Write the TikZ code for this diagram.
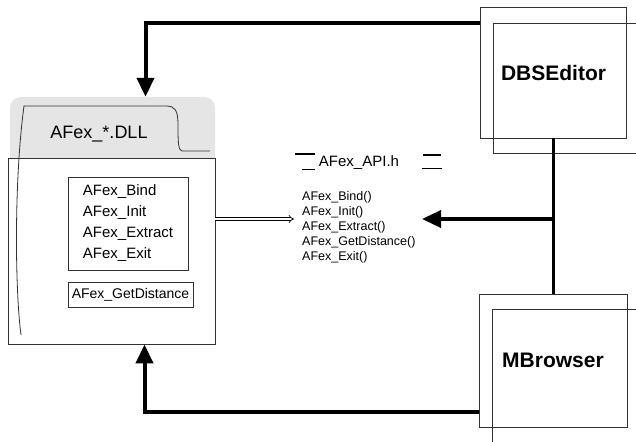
\documentclass[tikz,border=0pt]{standalone}
\usepackage{fontspec}
\setmainfont{Liberation Sans}
\usetikzlibrary{%
    arrows.meta,%
    positioning
    }
\definecolor{mygray1}{RGB}{229,229,229}
\definecolor{mygray2}{RGB}{50,50,50}
\tikzset{
  dlltab/.style={
    rectangle,
    rounded corners=11pt,
    fill=mygray1,
    minimum width=205pt,
    minimum height=103pt,
  },
  dllbox/.style={
    rectangle,
    draw=mygray2,
    line width=0.9pt,
    fill=white,
    minimum width=207pt,
    minimum height=186pt,
  },
  funcbox/.style={
    rectangle,
    draw=mygray2,
    line width=0.8pt,
    align=left,
    inner sep=0pt,
    font=\fontsize{15}{21}\selectfont,
  },
  appbox/.style={
    rectangle,
    draw=mygray2,
    line width=0.8pt,
    minimum width=146pt,
    minimum height=131pt,
    font=\fontsize{21}{24}\selectfont\bfseries,
  },
  frame/.style={
    mygray2,
    line width=0.8pt,
  },
  conn/.style={
    line width=4pt,
    -{Triangle[length=19pt,width=17pt]},
  },
  dblarrow/.style={
    double=white,
    double distance=2pt,
    line width=0.7pt,
    -{Implies},
  },
}

\begin{document}
\begin{tikzpicture}[x=1pt,y=1pt]
\useasboundingbox (0,0) rectangle (636,-441);

% the DLL
\node[dlltab] 
  (tab) 
  at (112.5,-148.5) 
  {};
\node[dllbox] 
  (dll) 
  at (111.5,-251) 
  {};
\draw[frame] 
  (210,-151) -- (182,-151) 
  .. controls (178,-151) and (178,-140) .. (178,-125) 
  .. controls (178,-110) and (175,-106) .. (166,-106) 
  -- (24,-106) 
  .. controls (14,-180) and (15,-290) .. (21,-335);
\node[font=\fontsize{18}{20}\selectfont] 
  (dllname) 
  at (99,-134) 
  {AFex\_*.DLL};
\node[funcbox, minimum width=120pt, minimum height=93pt] 
  (funcs) 
  at (128,-223.5) 
  {AFex\_Bind\\AFex\_Init\\AFex\_Extract\\AFex\_Exit};
\node[funcbox, font=\fontsize{14}{16}\selectfont, 
      minimum width=125pt, minimum height=25pt,
      below=12pt of funcs.south west, anchor=north west] 
  (dist) 
  {AFex\_GetDistance};

% the header
\node[font=\fontsize{15}{18}\selectfont] 
  (api) 
  at (359,-163) 
  {AFex\_API.h};
\draw[line width=1.3pt] (295,-154) -- (315,-154);
\draw[line width=0.8pt] (302,-169) -- (315,-169);
\draw[line width=1.3pt] (423,-155) -- (441,-155);
\draw[line width=0.8pt] (422,-168) -- (442,-168);
\node[align=left, inner sep=0pt, anchor=north west,
      font=\fontsize{12.5}{15}\selectfont] 
  (apifuncs) 
  at (302,-191) 
  {AFex\_Bind()\\AFex\_Init()\\AFex\_Extract()\\AFex\_GetDistance()\\AFex\_Exit()};

% the programs
\node[appbox] 
  (dbs) 
  at (553.5,-72.5) 
  {DBSEditor};
\draw[frame] (640,-23) -| (493,-153) -- (640,-153);
\node[appbox, minimum width=148pt, minimum height=133pt] 
  (mb) 
  at (553,-360.5) 
  {MBrowser};
\draw[frame] (640,-309) -| (492,-445);

\coordinate (apiin) at (294,-219);
\coordinate (apiout) at (422,-219);

\draw[dblarrow]
  (dll.east |- apiin) -- (apiin);
\draw[line width=3.5pt]
  (dbs.south) -- (dbs.south |- mb.north);
\draw[conn, line width=3.5pt]
  (dbs.south |- apiout) -- (apiout);
\draw[conn]
  ([yshift=-16pt]dbs.north west) -| ([xshift=33pt]tab.north);
\draw[conn]
  ([yshift=15pt]mb.south west) -| ([xshift=33pt]dll.south);
\end{tikzpicture}
\end{document}
